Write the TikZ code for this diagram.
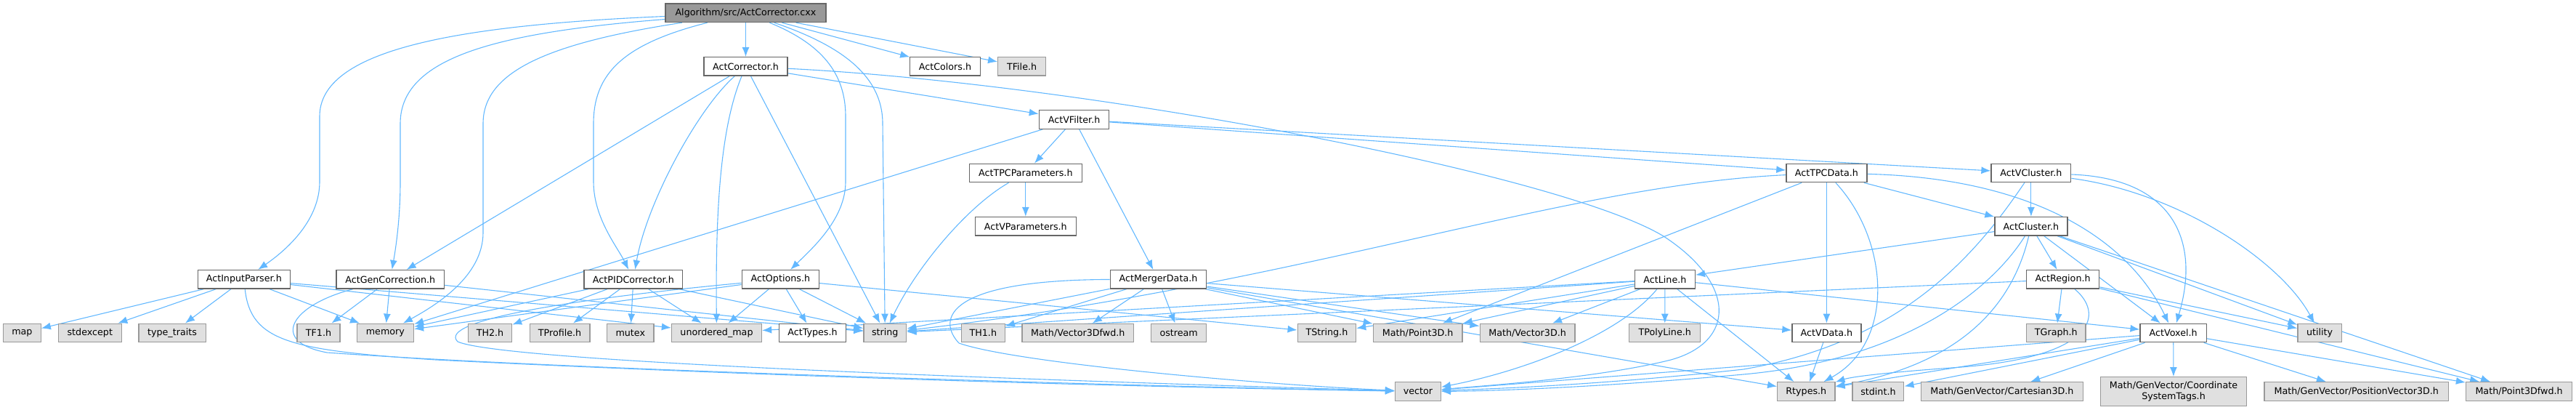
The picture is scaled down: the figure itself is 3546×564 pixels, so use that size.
\documentclass[tikz,border=0pt]{standalone}
\usepackage{fontspec}
\setmainfont{DejaVu Sans}
\usetikzlibrary{arrows.meta}
\definecolor{edgeblue}{HTML}{63B8FF}
\definecolor{docborder}{HTML}{666666}
\definecolor{extfill}{HTML}{E0E0E0}
\definecolor{extborder}{HTML}{999999}
\definecolor{rootfill}{HTML}{999999}
\pgfdeclarelayer{background}
\pgfsetlayers{background,main}
\begin{document}
\begin{tikzpicture}[x=1pt,y=-1pt,>={Latex[length=13pt,width=10pt]},font=\fontsize{12.7}{15}\selectfont,
  box/.style={draw=docborder,fill=white,line width=1.3pt,minimum height=25.5pt,inner sep=0pt},
  extbox/.style={box,draw=extborder,fill=extfill},
  rootbox/.style={box,fill=rootfill},
  dep/.style={->,draw=edgeblue,line width=1.1pt}]
\useasboundingbox (0,0) rectangle (3546,564);
\node[rootbox,minimum width=220.8pt] (alg) at (1026.5,17.8) {Algorithm/src/ActCorrector.cxx};
\node[box,minimum width=115.2pt] (corr) at (1026.5,91.4) {ActCorrector.h};
\node[box,minimum width=96.4pt] (col) at (1301,91.4) {ActColors.h};
\node[extbox,minimum width=65.8pt] (tfile) at (1406.6,91.4) {TFile.h};
\node[box,minimum width=96.4pt] (vfilt) at (1478.6,164.5) {ActVFilter.h};
\node[box,minimum width=155pt] (tpcpar) at (1411.8,238) {ActTPCParameters.h};
\node[box,minimum width=111pt] (tpcdata) at (2514.4,238) {ActTPCData.h};
\node[box,minimum width=109.8pt] (vclus) at (2795.9,238) {ActVCluster.h};
\node[box,minimum width=139pt] (vpar) at (1411.8,311.3) {ActVParameters.h};
\node[box,minimum width=99.9pt] (clus) at (2795.9,311.3) {ActCluster.h};
\node[box,minimum width=126.7pt] (inp) at (335.8,384.3) {ActInputParser.h};
\node[box,minimum width=148.5pt] (gen) at (537.3,384.3) {ActGenCorrection.h};
\node[box,minimum width=135.8pt] (pid) at (871.9,384.3) {ActPIDCorrector.h};
\node[box,minimum width=106pt] (opt) at (1074.3,384.3) {ActOptions.h};
\node[box,minimum width=132.4pt] (merger) at (1594.5,384.3) {ActMergerData.h};
\node[box,minimum width=83pt] (line) at (2291.9,384.3) {ActLine.h};
\node[box,minimum width=100.3pt] (region) at (2839.6,384.3) {ActRegion.h};
\node[extbox,minimum width=51.7pt] (map) at (30.4,458) {map};
\node[extbox,minimum width=86.8pt] (stdexc) at (123.8,458) {stdexcept};
\node[extbox,minimum width=92.3pt] (ttraits) at (237,458) {type\_traits};
\node[extbox,minimum width=58.9pt] (tf1) at (438.5,458) {TF1.h};
\node[extbox,minimum width=78.1pt] (mem) at (530.4,458) {memory};
\node[extbox,minimum width=60.1pt] (th2) at (674.5,458) {TH2.h};
\node[extbox,minimum width=82.7pt] (tprof) at (770.6,458) {TProfile.h};
\node[extbox,minimum width=64.3pt] (mutex) at (867.8,458) {mutex};
\node[extbox,minimum width=124pt] (umap) at (986.5,458) {unordered\_map};
\node[box,minimum width=92.6pt] (types) at (1118.5,458) {ActTypes.h};
\node[extbox,minimum width=58.9pt] (str) at (1218.3,458) {string};
\node[extbox,minimum width=60.1pt] (th1) at (1353.3,458) {TH1.h};
\node[extbox,minimum width=153.5pt] (v3dfwd) at (1483.8,458) {Math/Vector3Dfwd.h};
\node[extbox,minimum width=76.1pt] (ostream) at (1622.7,458) {ostream};
\node[extbox,minimum width=80.4pt] (tstring) at (1826.4,458) {TString.h};
\node[extbox,minimum width=122.8pt] (p3d) at (1951.7,458) {Math/Point3D.h};
\node[extbox,minimum width=130.9pt] (v3d) at (2102.6,458) {Math/Vector3D.h};
\node[extbox,minimum width=98pt] (tpoly) at (2291.7,458) {TPolyLine.h};
\node[box,minimum width=94.9pt] (vdata) at (2514.4,458) {ActVData.h};
\node[extbox,minimum width=81.6pt] (tgraph) at (2830.3,458) {TGraph.h};
\node[box,minimum width=91.2pt] (voxel) at (2991.7,458) {ActVoxel.h};
\node[extbox,minimum width=60.2pt] (util) at (3193.1,458) {utility};
\node[extbox,minimum width=62.8pt] (vec) at (1951.9,538.5) {vector};
\node[extbox,minimum width=79.2pt] (rtypes) at (2486.3,538.5) {Rtypes.h};
\node[extbox,minimum width=70.8pt] (stdint) at (2585.4,538.5) {stdint.h};
\node[extbox,minimum width=222.7pt] (cart) at (2755.9,538.5) {Math/GenVector/Cartesian3D.h};
\node[extbox,minimum width=201.3pt,minimum height=40pt,align=center] (coord) at (2992,538.7) {Math/GenVector/Coordinate\\SystemTags.h};
\node[extbox,minimum width=253.5pt] (posvec) at (3243.8,538.5) {Math/GenVector/PositionVector3D.h};
\node[extbox,minimum width=146.2pt] (p3dfwd) at (3467.6,538.5) {Math/Point3Dfwd.h};
\begin{pgfonlayer}{background}
\draw[dep] (alg) -- (corr);
\draw[dep] (alg) -- (col);
\draw[dep] (alg) -- (tfile);
\draw[dep] (alg) .. controls (620,35) and (440,70) .. (440,160) -- (440,250) .. controls (440,300) and (400,340) .. (inp);
\draw[dep] (alg) .. controls (680,45) and (551,80) .. (551,170) -- (551,250) .. controls (551,300) and (545,340) .. (gen);
\draw[dep] (alg) .. controls (750,60) and (665,100) .. (665,170) -- (665,320) .. controls (665,380) and (600,420) .. (mem);
\draw[dep] (alg) .. controls (860,60) and (817,100) .. (817,170) -- (817,250) .. controls (817,300) and (850,340) .. (pid);
\draw[dep] (alg) .. controls (1130,60) and (1164,100) .. (1164,160) -- (1164,250) .. controls (1164,300) and (1120,340) .. (opt);
\draw[dep] (alg) .. controls (1150,60) and (1215,100) .. (1215,170) -- (str);
\draw[dep] (corr) -- (gen);
\draw[dep] (corr) .. controls (960,150) and (890,280) .. (pid);
\draw[dep] (corr) .. controls (990,180) and (985,300) .. (umap);
\draw[dep] (corr) -- (str);
\draw[dep] (corr) -- (vfilt);
\draw[dep] (corr) .. controls (1500,115) and (2150,240) .. (2290,325) .. controls (2390,390) and (2390,470) .. (2300,495) .. controls (2200,520) and (2050,530) .. (vec);
\draw[dep] (vfilt) -- (mem);
\draw[dep] (vfilt) -- (tpcpar);
\draw[dep] (vfilt) -- (merger);
\draw[dep] (vfilt) -- (tpcdata);
\draw[dep] (vfilt) -- (vclus);
\draw[dep] (tpcpar) -- (vpar);
\draw[dep] (tpcpar) .. controls (1330,285) and (1260,370) .. (str);
\draw[dep] (tpcdata) -- (p3d);
\draw[dep] (tpcdata) .. controls (2150,255) and (1800,390) .. (str);
\draw[dep] (tpcdata) -- (vdata);
\draw[dep] (tpcdata) .. controls (2600,330) and (2610,470) .. (rtypes);
\draw[dep] (tpcdata) -- (clus);
\draw[dep] (tpcdata) .. controls (2800,245) and (2930,330) .. (voxel);
\draw[dep] (vclus) .. controls (2720,350) and (2620,470) .. (2400,508) .. controls (2200,530) and (2050,535) .. (vec);
\draw[dep] (vclus) -- (clus);
\draw[dep] (vclus) .. controls (3000,265) and (3140,360) .. (util);
\draw[dep] (vclus) .. controls (2990,245) and (3030,330) .. (voxel);
\draw[dep] (clus) -- (line);
\draw[dep] (clus) .. controls (2740,400) and (2620,495) .. (2400,515) .. controls (2200,533) and (2050,538) .. (vec);
\draw[dep] (clus) .. controls (2770,420) and (2700,500) .. (rtypes);
\draw[dep] (clus) -- (region);
\draw[dep] (clus) -- (voxel);
\draw[dep] (clus) -- (util);
\draw[dep] (clus) -- (p3dfwd);
\draw[dep] (region) -- (str);
\draw[dep] (region) -- (tgraph);
\draw[dep] (region) .. controls (2895,430) and (2890,490) .. (2700,505) .. controls (2600,512) and (2550,518) .. (rtypes);
\draw[dep] (region) -- (util);
\draw[dep] (region) -- (p3dfwd);
\draw[dep] (voxel) -- (coord);
\draw[dep] (voxel) -- (cart);
\draw[dep] (voxel) -- (rtypes);
\draw[dep] (voxel) -- (stdint);
\draw[dep] (voxel) -- (vec);
\draw[dep] (voxel) -- (posvec);
\draw[dep] (voxel) -- (p3dfwd);
\draw[dep] (line) -- (tpoly);
\draw[dep] (line) .. controls (2230,460) and (2100,510) .. (vec);
\draw[dep] (line) -- (v3d);
\draw[dep] (line) -- (p3d);
\draw[dep] (line) -- (tstring);
\draw[dep] (line) -- (rtypes);
\draw[dep] (line) -- (voxel);
\draw[dep] (line) -- (str);
\draw[dep] (line) -- (umap);
\draw[dep] (merger) .. controls (1300,385) and (1290,440) .. (1320,472) .. controls (1400,500) and (1750,530) .. (vec);
\draw[dep] (merger) -- (str);
\draw[dep] (merger) -- (th1);
\draw[dep] (merger) -- (v3dfwd);
\draw[dep] (merger) -- (ostream);
\draw[dep] (merger) -- (p3d);
\draw[dep] (merger) -- (v3d);
\draw[dep] (merger) -- (rtypes);
\draw[dep] (merger) -- (vdata);
\draw[dep] (vdata) -- (rtypes);
\draw[dep] (inp) -- (map);
\draw[dep] (inp) -- (stdexc);
\draw[dep] (inp) -- (ttraits);
\draw[dep] (inp) -- (mem);
\draw[dep] (inp) -- (umap);
\draw[dep] (inp) -- (str);
\draw[dep] (inp) .. controls (345,470) and (400,482) .. (600,495) .. controls (1100,520) and (1600,533) .. (vec);
\draw[dep] (gen) -- (tf1);
\draw[dep] (gen) -- (mem);
\draw[dep] (gen) -- (str);
\draw[dep] (gen) .. controls (400,420) and (370,470) .. (450,485) .. controls (800,510) and (1600,532) .. (vec);
\draw[dep] (pid) -- (th2);
\draw[dep] (pid) -- (tprof);
\draw[dep] (pid) -- (mutex);
\draw[dep] (pid) -- (umap);
\draw[dep] (pid) -- (str);
\draw[dep] (pid) -- (mem);
\draw[dep] (opt) -- (umap);
\draw[dep] (opt) -- (types);
\draw[dep] (opt) -- (str);
\draw[dep] (opt) -- (tstring);
\draw[dep] (opt) -- (mem);
\draw[dep] (opt) .. controls (800,410) and (600,440) .. (630,470) .. controls (700,500) and (1500,525) .. (vec);
\end{pgfonlayer}
\end{tikzpicture}
\end{document}
